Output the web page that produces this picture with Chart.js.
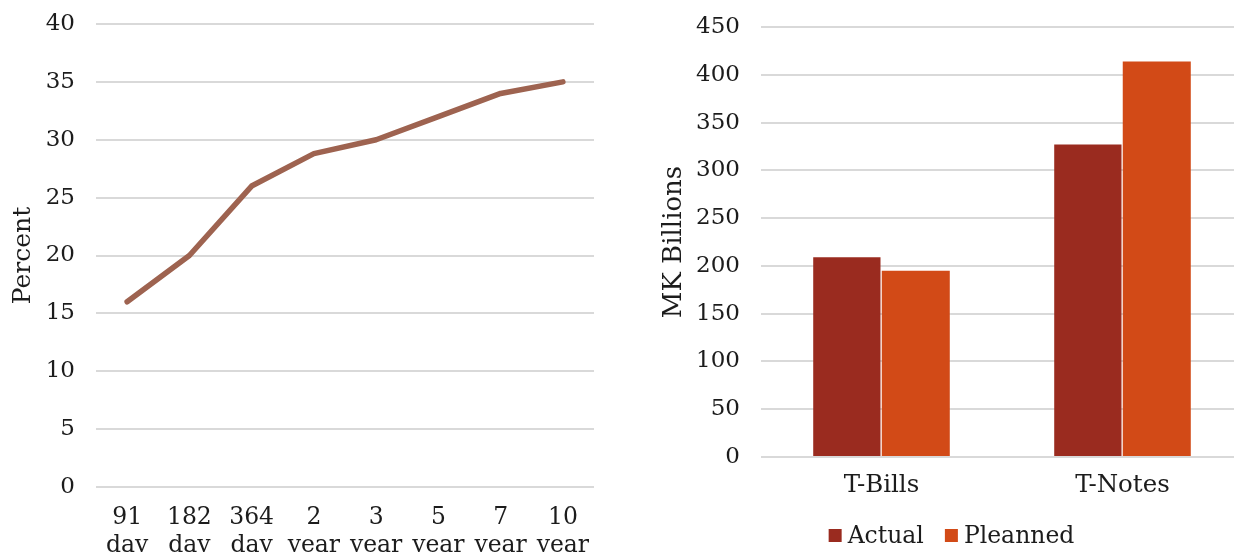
<!DOCTYPE html>
<html>
<head>
<meta charset="utf-8">
<script src="https://cdn.jsdelivr.net/npm/chart.js@4/dist/chart.umd.min.js"></script>
<style>
  html, body { margin: 0; padding: 0; background: #ffffff; overflow: hidden; width: 1234px; height: 552px; }
  canvas { position: absolute; top: 0; }
  #yieldCurve { left: 0; }
  #issuance { left: 620px; }
</style>
</head>
<body>
<canvas id="yieldCurve" width="620" height="552"></canvas>
<canvas id="issuance" width="630" height="552"></canvas>
<script>
// Yield curve by tenor (percent)
const tenors = [["91", "day"], ["182", "day"], ["364", "day"], ["2", "year"], ["3", "year"], ["5", "year"], ["7", "year"], ["10", "year"]];
const yields = [16, 20, 26, 28.8, 30, 32, 34, 35];

// Issuance by instrument (MK billions)
const instruments = ["T-Bills", "T-Notes"];
const actual = [210, 328];
const planned = [196, 415];
const seriesNames = ["Actual", "Pleanned"];

const FONT_FAMILY = "'DejaVu Serif', 'Liberation Serif', serif";
const TEXT = "#1c1c1c";
const GRID = "#d9d9d9";
const CLEAR = "rgba(0,0,0,0)";

Chart.defaults.font.family = FONT_FAMILY;
Chart.defaults.font.size = 23;
Chart.defaults.color = TEXT;

// Legend drawn as a single centred row with compact swatches
const rowLegend = {
  id: "rowLegend",
  afterDraw(chart, args, opts) {
    const ctx = chart.ctx;
    const size = opts.fontSize;
    ctx.save();
    ctx.font = size + "px " + FONT_FAMILY;
    ctx.textBaseline = "middle";
    ctx.textAlign = "left";
    const items = chart.data.datasets.map(ds => ({
      text: ds.label,
      color: ds.backgroundColor,
      w: ctx.measureText(ds.label).width
    }));
    let total = 0;
    items.forEach((it, i) => {
      total += opts.box + opts.gap + it.w + (i < items.length - 1 ? opts.spacing : 0);
    });
    let x = opts.centerX - total / 2;
    const y = opts.centerY;
    items.forEach(it => {
      ctx.fillStyle = it.color;
      ctx.fillRect(x, y - opts.box / 2, opts.box, opts.box);
      x += opts.box + opts.gap;
      ctx.fillStyle = TEXT;
      ctx.fillText(it.text, x, y + 1);
      x += it.w + opts.spacing;
    });
    ctx.restore();
  }
};

new Chart(document.getElementById("yieldCurve"), {
  type: "line",
  data: {
    labels: tenors,
    datasets: [{
      data: yields,
      borderColor: "#9e6350",
      borderWidth: 5.5,
      borderCapStyle: "round",
      borderJoinStyle: "round",
      pointRadius: 0,
      pointHoverRadius: 0,
      tension: 0,
      fill: false
    }]
  },
  options: {
    responsive: false,
    animation: false,
    events: [],
    layout: { padding: { top: 24, right: 26, bottom: 0, left: 0 } },
    plugins: { legend: { display: false }, tooltip: { enabled: false } },
    scales: {
      x: {
        offset: true,
        grid: { display: false, drawTicks: false },
        border: { display: false },
        ticks: { padding: 17, maxRotation: 0, autoSkip: false, font: { size: 23.5, lineHeight: 1.2 } },
        afterFit(scale) { scale.height = 65; }
      },
      y: {
        min: 0,
        max: 40,
        grid: { color: GRID, lineWidth: 2, drawTicks: true, tickLength: 21, tickColor: CLEAR },
        border: { display: false },
        ticks: { stepSize: 5, padding: 0 },
        title: { display: true, text: "Percent", font: { size: 25 }, padding: { top: 8, bottom: 0 } },
        afterFit(scale) { scale.width = 96; }
      }
    }
  }
});

new Chart(document.getElementById("issuance"), {
  type: "bar",
  data: {
    labels: instruments,
    datasets: [
      { label: seriesNames[0], data: actual, backgroundColor: "#9a2b1f", borderColor: "rgba(255,255,255,0.15)", borderWidth: { top: 1, left: 1, right: 1, bottom: 0 }, borderSkipped: false, barPercentage: 1, categoryPercentage: 0.575 },
      { label: seriesNames[1], data: planned, backgroundColor: "#d24a17", borderColor: "rgba(255,255,255,0.15)", borderWidth: { top: 1, left: 0, right: 1, bottom: 0 }, borderSkipped: false, barPercentage: 1, categoryPercentage: 0.575 }
    ]
  },
  plugins: [rowLegend],
  options: {
    responsive: false,
    animation: false,
    events: [],
    layout: { padding: { top: 27, right: 7, bottom: 40, left: 0 } },
    plugins: {
      legend: { display: false },
      tooltip: { enabled: false },
      rowLegend: { centerX: 331.5, centerY: 535.5, box: 13, gap: 6, spacing: 21, fontSize: 23.5 }
    },
    scales: {
      x: {
        grid: { display: false, drawTicks: false },
        border: { display: false },
        ticks: { padding: 14, maxRotation: 0, font: { size: 24.5 } },
        afterFit(scale) { scale.height = 55; }
      },
      y: {
        min: 0,
        max: 450,
        grid: { color: GRID, lineWidth: 2, drawTicks: true, tickLength: 21, tickColor: CLEAR },
        border: { display: false },
        ticks: { stepSize: 50, padding: 0 },
        title: { display: true, text: "MK Billions", font: { size: 26 }, padding: { top: 39, bottom: 0 } },
        afterFit(scale) { scale.width = 141; }
      }
    }
  }
});
</script>
</body>
</html>
